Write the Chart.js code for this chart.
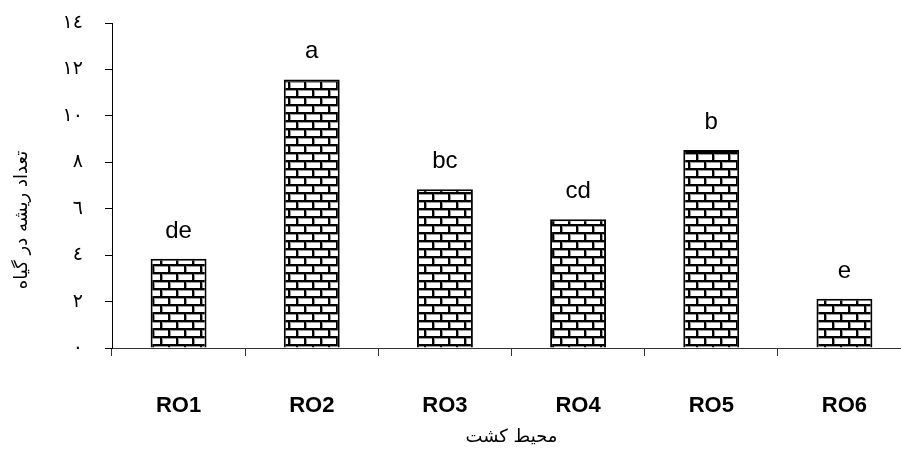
<!DOCTYPE html>
<html>
<head>
<meta charset="utf-8">
<script src="https://cdn.jsdelivr.net/npm/chart.js@4/dist/chart.umd.min.js"></script>
<style>
  html, body { margin: 0; padding: 0; background: #fff; overflow: hidden; }
</style>
</head>
<body>
<canvas id="rootChart" width="911" height="452"></canvas>
<script>
// داده‌ها
var categories = ["RO1", "RO2", "RO3", "RO4", "RO5", "RO6"];
var rootCount = [3.84, 11.57, 6.84, 5.55, 8.53, 2.12];
var groupLetters = ["de", "a", "bc", "cd", "b", "e"];
var yTickLabels = ["٠", "٢", "٤", "٦", "٨", "١٠", "١٢", "١٤"];
var xTitle = "محیط کشت";
var yTitle = "تعداد ریشه در گیاه";

// الگوی آجری میله‌ها
function brickPattern() {
    var c = document.createElement("canvas");
    c.width = 16;
    c.height = 16;
    var g = c.getContext("2d");
    g.fillStyle = "#fff";
    g.fillRect(0, 0, 16, 16);
    // سایه خاکستری
    g.fillStyle = "#9a9a9a";
    g.fillRect(0, 2, 16, 1);
    g.fillRect(0, 10, 16, 1);
    g.fillRect(2, 2, 1, 6);
    g.fillRect(10, 10, 1, 6);
    // ملات سیاه
    g.fillStyle = "#000";
    g.fillRect(0, 0, 16, 2);
    g.fillRect(0, 8, 16, 2);
    g.fillRect(0, 0, 2, 8);
    g.fillRect(8, 8, 2, 8);
    return g.createPattern(c, "repeat");
}

var extras = {
    id: "extras",
    afterDatasetsDraw: function (chart) {
        var ctx = chart.ctx;
        var area = chart.chartArea;
        var meta = chart.getDatasetMeta(0);
        ctx.save();
        ctx.fillStyle = "#000";
        ctx.textAlign = "center";
        ctx.textBaseline = "alphabetic";
        ctx.font = '24px "Liberation Sans", Arial, sans-serif';
        meta.data.forEach(function (bar, i) {
            ctx.fillText(groupLetters[i], bar.x, bar.y - 21);
        });
        // عنوان محورها
        ctx.font = '18px "DejaVu Sans", sans-serif';
        ctx.textBaseline = "middle";
        ctx.fillText(xTitle, (area.left + area.right) / 2, area.bottom + 89);
        ctx.translate(22, area.top + 197);
        ctx.rotate(-Math.PI / 2);
        ctx.fillText(yTitle, 0, 0);
        ctx.restore();
    }
};

var ctx1 = document.getElementById("rootChart");

var rootChart = new Chart(ctx1, {
    type: "bar",
    data: {
        labels: categories,
        datasets: [{
            data: rootCount,
            backgroundColor: brickPattern(),
            borderColor: "#000",
            borderWidth: 2,
            barPercentage: 0.42,
            categoryPercentage: 1.0
        }]
    },
    options: {
        responsive: false,
        animation: false,
        layout: {
            padding: { top: 23, right: 0, bottom: 0, left: 0 }
        },
        plugins: {
            legend: { display: false },
            tooltip: { enabled: false }
        },
        scales: {
            x: {
                afterFit: function (scale) { scale.height = 104; },
                border: { display: true, color: "#333", width: 1 },
                grid: {
                    offset: true,
                    drawOnChartArea: false,
                    drawTicks: true,
                    tickLength: 8,
                    color: "#333"
                },
                ticks: {
                    padding: 37,
                    color: "#000",
                    font: { family: '"Liberation Sans", Arial', size: 22, weight: "bold" }
                }
            },
            y: {
                min: 0,
                max: 14,
                afterFit: function (scale) {
                    scale.width = 112;
                    scale.paddingTop = 0;
                    scale.paddingBottom = 0;
                },
                border: { display: true, color: "#000", width: 1 },
                grid: {
                    drawOnChartArea: false,
                    drawTicks: true,
                    tickLength: 7,
                    color: "#000"
                },
                ticks: {
                    stepSize: 2,
                    padding: 22,
                    color: "#000",
                    font: { family: '"DejaVu Sans"', size: 19 },
                    callback: function (v) { return yTickLabels[v / 2]; }
                }
            }
        }
    },
    plugins: [extras]
});
</script>
</body>
</html>
